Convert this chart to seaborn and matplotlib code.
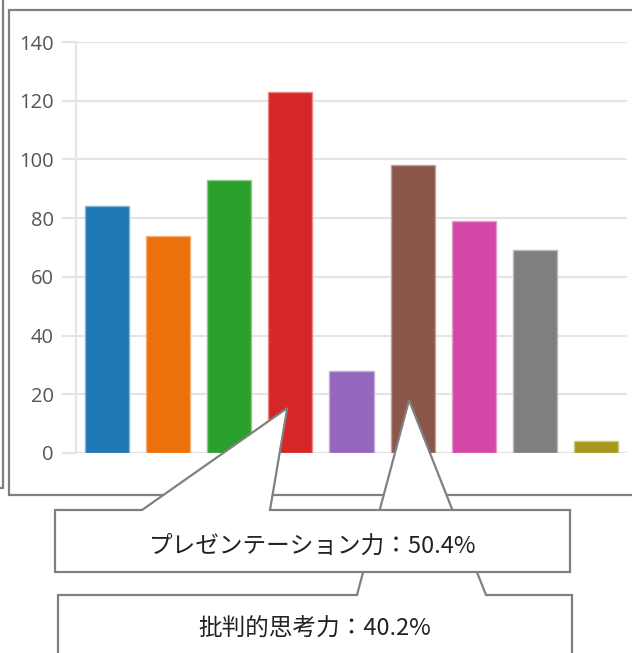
import numpy as np
import pandas as pd
import matplotlib
matplotlib.use("Agg")
import matplotlib.pyplot as plt
import matplotlib.colors as mcolors
from matplotlib.path import Path
from matplotlib.patches import PathPatch
import seaborn as sns

# Survey results: number of respondents choosing each skill (multiple answers allowed)
skills = ["項目A", "項目B", "項目C", "プレゼンテーション力", "項目E",
          "批判的思考力", "項目G", "項目H", "項目I"]
counts = [84, 74, 93, 123, 28, 98, 79, 69, 4]
respondents = 244
colors = ["#1f77b4", "#ec700b", "#2ca02c", "#d62728", "#9467bd",
          "#8c564b", "#d447a7", "#7f7f7f", "#a6981c"]
y_ticks = [0, 20, 40, 60, 80, 100, 120, 140]
# Skills called out below the chart
highlighted = ["プレゼンテーション力", "批判的思考力"]

df = pd.DataFrame({"skill": skills, "count": counts})

sns.set_theme(style="white")
plt.rcParams["font.family"] = ["Noto Sans CJK JP", "DejaVu Sans"]

W, H = 632, 653
fig = plt.figure(figsize=(W / 100, H / 100), dpi=100)
fig.patch.set_facecolor("white")

# Plot area in pixel coordinates (left, top, right, bottom)
L, T, R, B = 76, 42, 627, 453
ax = fig.add_axes([L / W, (H - B) / H, (R - L) / W, (B - T) / H])

sns.barplot(data=df, x="skill", y="count", hue="skill", palette=colors,
            saturation=1, width=0.72, legend=False, ax=ax, zorder=3)
for patch, c in zip(ax.patches, colors):
    rgb = np.array(mcolors.to_rgb(c))
    patch.set_edgecolor(tuple(rgb * 0.55 + 0.45))
    patch.set_linewidth(1.0)

grid_c = "#e4e4e4"
ax.set_xlim(-0.5, len(skills) - 0.5)
ax.set_ylim(0, 140)
ax.set_yticks(y_ticks)
ax.set_yticklabels([str(v) for v in y_ticks], fontfamily="Open Sans",
                   fontsize=14.5, color="#555555")
ax.set_xticks([])
ax.set_xlabel("")
ax.set_ylabel("")
ax.yaxis.grid(True, color=grid_c, linewidth=1.5, zorder=0)
ax.set_axisbelow(True)
ax.tick_params(axis="y", length=10, width=1.5, color=grid_c, pad=6, left=True)
for side in ["top", "right", "bottom"]:
    ax.spines[side].set_visible(False)
ax.spines["left"].set_color(grid_c)
ax.spines["left"].set_linewidth(1.5)
ax.set_facecolor("none")

# Overlay in pixel coordinates for the frame and callouts
ov = fig.add_axes([0, 0, 1, 1], zorder=5)
ov.set_xlim(0, W)
ov.set_ylim(H, 0)
ov.axis("off")
ov.patch.set_alpha(0)

edge = "#808080"
# Chart frame and the edge of the neighbouring panel
ov.plot([W + 5, 9, 9, W + 5], [10, 10, 495, 495], color=edge, lw=1.6,
        solid_joinstyle="miter")
ov.plot([-5, 3, 3], [488, 488, -5], color=edge, lw=1.6, solid_joinstyle="miter")


def to_px(x, y):
    disp = ax.transData.transform((x, y))
    return ov.transData.inverted().transform(disp)


def callout(box, base, tip, text, text_y, z):
    x0, y0, x1, y1 = box
    tx, ty = tip
    verts = [(x0, y0), (base[0], y0), (tx, ty), (base[1], y0), (x1, y0),
             (x1, y1), (x0, y1), (x0, y0)]
    codes = [Path.MOVETO] + [Path.LINETO] * 6 + [Path.CLOSEPOLY]
    ov.add_patch(PathPatch(Path(verts, codes), facecolor="white", edgecolor=edge,
                           lw=1.6, joinstyle="miter", zorder=z))
    ov.text((x0 + x1) / 2, text_y, text, ha="center", va="center",
            fontsize=17, color="#222222", zorder=z + 0.5,
            family=["Noto Sans CJK JP", "DejaVu Sans"])


i_pres = skills.index(highlighted[0])
i_crit = skills.index(highlighted[1])
pct_pres = counts[i_pres] / respondents * 100
pct_crit = counts[i_crit] / respondents * 100

tip_crit = to_px(i_crit - 0.06, 18)
tip_pres = to_px(i_pres - 0.05, 15.3)

callout((58, 595, 572, 700), (357, 486), tip_crit,
        f"{highlighted[1]}：{pct_crit:.1f}%", 629, 2)
callout((55, 510, 570, 572), (142, 270), tip_pres,
        f"{highlighted[0]}：{pct_pres:.1f}%", 546, 4)

fig.savefig("out.png", dpi=100)
